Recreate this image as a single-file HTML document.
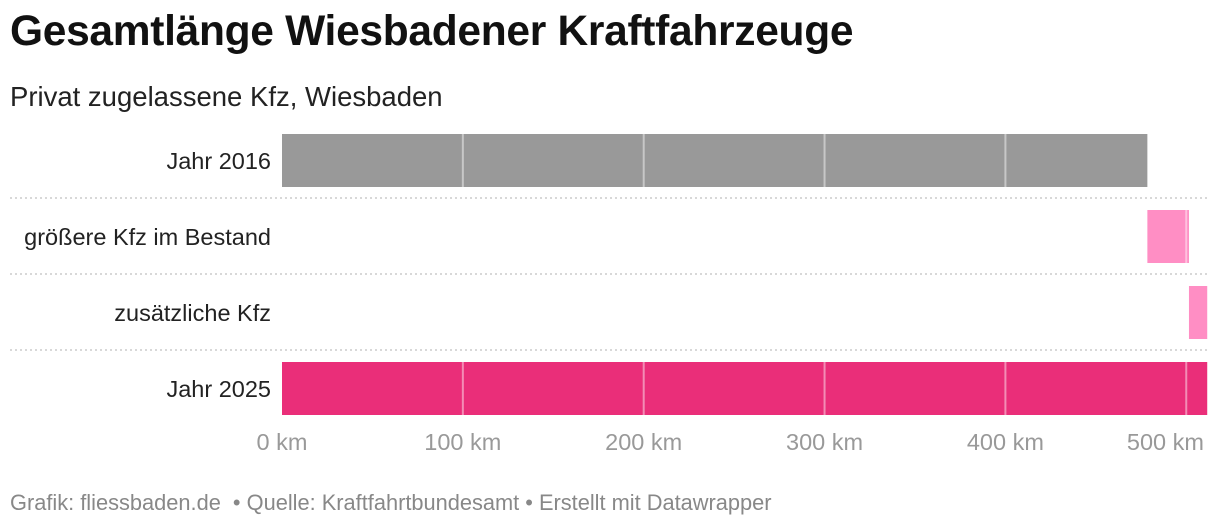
<!DOCTYPE html>
<html><head><meta charset="utf-8"><style>
body{margin:0;width:1220px;height:528px;background:#fff;font-family:"Liberation Sans",Arial,sans-serif;overflow:hidden;position:relative}
h1{position:absolute;left:10px;top:8px;margin:0;font-size:42.5px;font-weight:bold;color:#111;letter-spacing:-0.3px;white-space:nowrap}
.sub{position:absolute;left:10px;top:81px;font-size:27.5px;color:#222;white-space:nowrap}
.foot{position:absolute;left:10px;top:490px;font-size:21.8px;color:#888;white-space:nowrap}
</style></head><body>
<h1>Gesamtlänge Wiesbadener Kraftfahrzeuge</h1>
<div class="sub">Privat zugelassene Kfz, Wiesbaden</div>
<svg id="chart" width="1220" height="528" style="position:absolute;left:0;top:0"></svg>
<div class="foot">Grafik: fliessbaden.de &nbsp;• Quelle: Kraftfahrtbundesamt • Erstellt mit Datawrapper</div>
<script>
const categories=["Jahr 2016","größere Kfz im Bestand","zusätzliche Kfz","Jahr 2025"];
const starts=[0,478.5,501.5,0];
const ends=[478.5,501.5,511.6,511.6];
const colors=["#999999","#ff8ec4","#ff8ec4","#ea2e79"];
const ticks=[0,100,200,300,400,500];
const tickLabels=["0 km","100 km","200 km","300 km","400 km","500 km"];
const svg=document.getElementById('chart');const NS="http://www.w3.org/2000/svg";
const x=v=>282+v*1.8085;
const rowY=i=>134+i*76;
function mk(t,a){const e=document.createElementNS(NS,t);for(const k in a)e.setAttribute(k,a[k]);svg.appendChild(e);return e;}
categories.forEach((c,i)=>{
 const y=rowY(i);
 const r=mk('rect',{x:x(starts[i]),y:y,width:x(ends[i])-x(starts[i]),height:53,fill:colors[i]});
 
 
 const t=mk('text',{x:271,y:y+35,'text-anchor':'end','font-size':23.5,fill:'#222','font-family':'Liberation Sans, sans-serif'});
 t.textContent=c;
 
 
 if(i>0){const l=mk('line',{x1:10,x2:1210,y1:y-12,y2:y-12,stroke:'#ccc','stroke-width':1.5,'stroke-dasharray':'2,3'});
 
 }
 ticks.forEach(v=>{if(v>0&&x(v)>x(starts[i])&&x(v)<x(ends[i])){const g=mk('line',{x1:x(v),x2:x(v),y1:y,y2:y+53,stroke:'rgba(255,255,255,0.45)','stroke-width':2});
 
 }});
});
ticks.forEach((v,i)=>{const last=i===ticks.length-1;
 const t=mk('text',{x:last?1204:x(v),y:450,'text-anchor':last?'end':'middle','font-size':23.5,fill:'#999','font-family':'Liberation Sans, sans-serif'});
 t.textContent=tickLabels[i];
 
 });
</script>
</body></html>
